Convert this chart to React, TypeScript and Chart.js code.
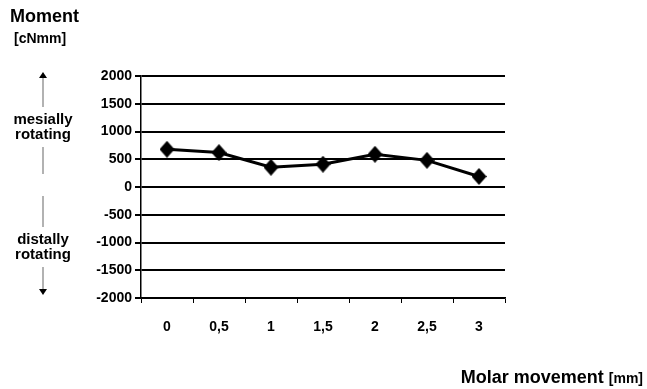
import React, { useEffect, useRef } from "react";
import { Chart, registerables } from "chart.js";

Chart.register(...registerables);

const categories = ["0", "0,5", "1", "1,5", "2", "2,5", "3"];
const momentValues = [680, 620, 355, 410, 590, 480, 190];
const yMin = -2000;
const yMax = 2000;
const yStep = 500;

const FONT = "'Liberation Sans', Arial, Helvetica, sans-serif";

function makeDiamond(): HTMLCanvasElement {
  const w = 15;
  const h = 17;
  const c = document.createElement("canvas");
  c.width = w;
  c.height = h;
  const ctx = c.getContext("2d")!;
  ctx.fillStyle = "#000";
  ctx.beginPath();
  ctx.moveTo(w / 2, 0);
  ctx.lineTo(w, h / 2);
  ctx.lineTo(w / 2, h);
  ctx.lineTo(0, h / 2);
  ctx.closePath();
  ctx.fill();
  return c;
}

export default function App() {
  const canvasRef = useRef<HTMLCanvasElement | null>(null);

  useEffect(() => {
    const canvas = canvasRef.current;
    if (!canvas) return;
    const diamond = makeDiamond();
    const chart = new Chart(canvas, {
      type: "line",
      data: {
        labels: categories,
        datasets: [
          {
            label: "Moment",
            data: momentValues,
            borderColor: "#000",
            backgroundColor: "#000",
            borderWidth: 3,
            tension: 0,
            pointStyle: diamond as any,
            pointRadius: 8,
            pointBackgroundColor: "#000",
            pointBorderColor: "#000",
          },
        ],
      },
      options: {
        responsive: false,
        animation: false,
        devicePixelRatio: 1,
        layout: { padding: { top: 76, right: 142, bottom: 51, left: 0 } },
        plugins: {
          legend: { display: false },
          tooltip: { enabled: false },
        },
        scales: {
          x: {
            type: "category",
            offset: true,
            grid: {
              offset: true,
              drawOnChartArea: false,
              drawTicks: true,
              tickLength: 5,
              color: "#000",
              lineWidth: 1,
            },
            border: { display: true, color: "#000", width: 1.5 },
            ticks: {
              color: "#000",
              padding: 16,
              font: { family: FONT, size: 14, weight: "bold" },
              maxRotation: 0,
            },
            afterFit: (scale: any) => {
              scale.height = 40;
            },
          },
          y: {
            min: yMin,
            max: yMax,
            grid: {
              color: "#000",
              lineWidth: 2,
              drawTicks: true,
              tickLength: 6,
            },
            border: { display: true, color: "#000", width: 1.5 },
            ticks: {
              stepSize: yStep,
              color: "#000",
              padding: 3,
              font: { family: FONT, size: 14, weight: "bold" },
              callback: (v: any) => String(v),
            },
            afterFit: (scale: any) => {
              scale.width = 141;
            },
          },
        },
      },
    });
    return () => chart.destroy();
  }, []);

  const textStyle: React.CSSProperties = {
    position: "absolute",
    fontFamily: FONT,
    fontWeight: "bold",
    color: "#000",
    whiteSpace: "nowrap",
    lineHeight: 1,
  };

  return (
    <div
      style={{
        position: "absolute",
        left: 0,
        top: 0,
        width: 647,
        height: 389,
        background: "#fff",
        overflow: "hidden",
      }}
    >
      <canvas
        ref={canvasRef}
        width={647}
        height={389}
        style={{ position: "absolute", left: 0, top: 0, width: 647, height: 389 }}
      />
      <div style={{ ...textStyle, left: 10, top: 7, fontSize: 18 }}>Moment</div>
      <div style={{ ...textStyle, left: 14, top: 31, fontSize: 14 }}>[cNmm]</div>
      <div
        style={{
          ...textStyle,
          left: 0,
          width: 86,
          top: 111,
          fontSize: 15,
          textAlign: "center",
          lineHeight: "15px",
        }}
      >
        mesially
        <br />
        rotating
      </div>
      <div
        style={{
          ...textStyle,
          left: 0,
          width: 86,
          top: 231,
          fontSize: 15,
          textAlign: "center",
          lineHeight: "15px",
        }}
      >
        distally
        <br />
        rotating
      </div>
      <svg
        width={90}
        height={300}
        style={{ position: "absolute", left: 0, top: 0 }}
      >
        <line x1={43} y1={77} x2={43} y2={107} stroke="#999" strokeWidth={1.5} />
        <polygon points="43,72 39,78 47,78" fill="#000" />
        <line x1={43} y1={147} x2={43} y2={174} stroke="#999" strokeWidth={1.5} />
        <line x1={43} y1={196} x2={43} y2={227} stroke="#999" strokeWidth={1.5} />
        <line x1={43} y1={267} x2={43} y2={290} stroke="#999" strokeWidth={1.5} />
        <polygon points="43,295 39,289 47,289" fill="#000" />
      </svg>
      <div style={{ ...textStyle, right: 4, top: 368, fontSize: 18 }}>
        Molar movement <span style={{ fontSize: 14 }}>[mm]</span>
      </div>
    </div>
  );
}
